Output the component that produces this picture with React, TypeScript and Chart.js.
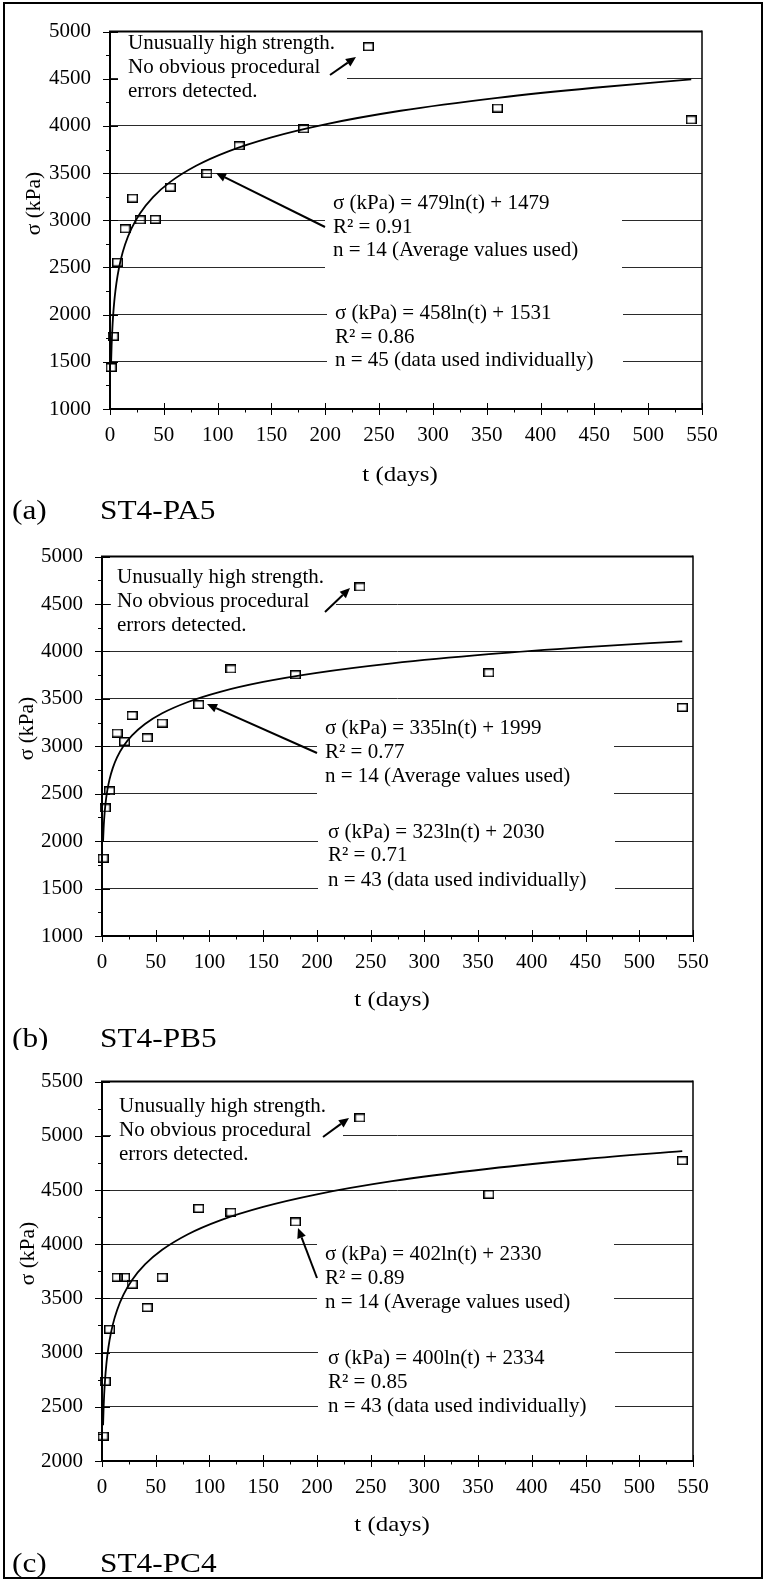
import React, { useEffect, useRef } from "react";
import { Chart, registerables } from "chart.js";

Chart.register(...registerables);

// ---------------- DATA ----------------
const DAYS = [1, 3, 7, 14, 21, 28, 42, 56, 90, 120, 180, 240, 360, 540];
const SIGMA_PA5 = [1440, 1770, 2555, 2910, 3235, 3005, 3010, 3350, 3495, 3790, 3970, 4840, 4190, 4065];
const SIGMA_PB5 = [1820, 2350, 2530, 3140, 3050, 3325, 3090, 3245, 3440, 3815, 3755, 4680, 3775, 3410];
const SIGMA_PC4 = [2230, 2735, 3215, 3695, 3695, 3630, 3415, 3695, 4330, 4295, 4205, 5165, 4460, 4770];

const TREND_DAYS = [1, 1.5, 2, 3, 4, 5, 7, 10, 14, 20, 28, 40, 56, 80, 110, 150, 200, 270, 360, 450, 540];
const TREND_PA5 = [1479, 1673, 1811, 2005, 2143, 2250, 2411, 2582, 2743, 2914, 3075, 3246, 3407, 3578, 3731, 3879, 4017, 4161, 4298, 4405, 4493];
const TREND_PB5 = [1999, 2135, 2231, 2367, 2463, 2538, 2651, 2770, 2883, 3003, 3115, 3235, 3348, 3467, 3574, 3678, 3774, 3874, 3971, 4046, 4107];
const TREND_PC4 = [2330, 2493, 2609, 2772, 2887, 2977, 3112, 3256, 3391, 3534, 3670, 3813, 3948, 4092, 4220, 4344, 4460, 4581, 4696, 4786, 4859];

const X_MIN = 0;
const X_MAX = 550;
const X_STEP = 50;
const Y_STEP = 500;

const NOTE_LINES = ["Unusually high strength.", "No obvious procedural", "errors detected."];
const EQ_AVG_PA5 = ["σ (kPa) = 479ln(t) + 1479", "R² = 0.91", "n = 14 (Average values used)"];
const EQ_IND_PA5 = ["σ (kPa) = 458ln(t) + 1531", "R² = 0.86", "n = 45 (data used individually)"];
const EQ_AVG_PB5 = ["σ (kPa) = 335ln(t) + 1999", "R² = 0.77", "n = 14 (Average values used)"];
const EQ_IND_PB5 = ["σ (kPa) = 323ln(t) + 2030", "R² = 0.71", "n = 43 (data used individually)"];
const EQ_AVG_PC4 = ["σ (kPa) = 402ln(t) + 2330", "R² = 0.89", "n = 14 (Average values used)"];
const EQ_IND_PC4 = ["σ (kPa) = 400ln(t) + 2334", "R² = 0.85", "n = 43 (data used individually)"];

const Y_TITLE = "σ (kPa)";
const X_TITLE = "t (days)";

// ---------------- LAYOUT ----------------
const W = 767;
const FONT = '"Liberation Serif", "Times New Roman", serif';
const TEXT_STRETCH = 1.16; // the x-title and panel labels are horizontally stretched in the original

type Box = { box: number[]; textX: number; lines: number[]; arrow?: number[] };
type PanelCfg = {
  key: string;
  top: number;
  height: number;
  plot: { left: number; right: number; top: number; bottom: number };
  yMin: number;
  yMax: number;
  values: number[];
  trend: number[];
  eqAvg: string[];
  eqInd: string[];
  label: string;
  name: string;
  yTitle: number[];
  xTitle: number[];
  labelBase: number;
  note: Box;
  eq1: Box;
  eq2: Box;
};

const PANELS: PanelCfg[] = [
  {
    key: "a",
    top: 0,
    height: 525,
    plot: { left: 110, right: 702, top: 20, bottom: 409 },
    yMin: 1000,
    yMax: 5000,
    values: SIGMA_PA5,
    trend: TREND_PA5,
    eqAvg: EQ_AVG_PA5,
    eqInd: EQ_IND_PA5,
    label: "(a)",
    name: "ST4-PA5",
    yTitle: [34, 203.5],
    xTitle: [400, 475],
    labelBase: 519,
    note: { box: [118, 25, 347, 105], textX: 128, lines: [43, 67, 91], arrow: [330, 75, 356, 57] },
    eq1: { box: [325, 188, 622, 270], textX: 333, lines: [203, 227, 250], arrow: [325, 227, 216, 173] },
    eq2: { box: [327, 296, 623, 372], textX: 335, lines: [313, 337, 360] },
  },
  {
    key: "b",
    top: 525,
    height: 525,
    plot: { left: 102, right: 693, top: 546, bottom: 936 },
    yMin: 1000,
    yMax: 5000,
    values: SIGMA_PB5,
    trend: TREND_PB5,
    eqAvg: EQ_AVG_PB5,
    eqInd: EQ_IND_PB5,
    label: "(b)",
    name: "ST4-PB5",
    yTitle: [27, 728.5],
    xTitle: [392, 1000],
    labelBase: 1047,
    note: { box: [111, 555, 336, 637], textX: 117, lines: [577, 601, 625], arrow: [325, 612, 350, 588] },
    eq1: { box: [317, 715, 614, 800], textX: 325, lines: [728, 752, 776], arrow: [317, 753, 207, 704] },
    eq2: { box: [318, 818, 615, 895], textX: 328, lines: [832, 855, 880] },
  },
  {
    key: "c",
    top: 1050,
    height: 535,
    plot: { left: 102, right: 693, top: 1072, bottom: 1461 },
    yMin: 2000,
    yMax: 5500,
    values: SIGMA_PC4,
    trend: TREND_PC4,
    eqAvg: EQ_AVG_PC4,
    eqInd: EQ_IND_PC4,
    label: "(c)",
    name: "ST4-PC4",
    yTitle: [28, 1253.5],
    xTitle: [392, 1525],
    labelBase: 1572,
    note: { box: [111, 1088, 343, 1170], textX: 119, lines: [1106, 1130, 1154], arrow: [323, 1137, 349, 1118] },
    eq1: { box: [317, 1225, 614, 1310], textX: 325, lines: [1254, 1278, 1302], arrow: [317, 1278, 298, 1228] },
    eq2: { box: [318, 1335, 615, 1420], textX: 328, lines: [1358, 1382, 1406] },
  },
];

function makeMarker(): HTMLCanvasElement {
  const c = document.createElement("canvas");
  c.width = 11;
  c.height = 9;
  const g = c.getContext("2d")!;
  g.strokeStyle = "#000";
  g.lineWidth = 1.5;
  g.strokeRect(0.75, 0.75, 9.5, 7.5);
  return c;
}

function drawArrow(ctx: CanvasRenderingContext2D, x1: number, y1: number, x2: number, y2: number) {
  const ang = Math.atan2(y2 - y1, x2 - x1);
  const len = 10;
  const hw = 4.5;
  const bx = x2 - Math.cos(ang) * len;
  const by = y2 - Math.sin(ang) * len;
  ctx.beginPath();
  ctx.moveTo(x1, y1);
  ctx.lineTo(bx, by);
  ctx.lineWidth = 2;
  ctx.strokeStyle = "#000";
  ctx.stroke();
  ctx.beginPath();
  ctx.moveTo(x2, y2);
  ctx.lineTo(bx + Math.sin(ang) * hw, by - Math.cos(ang) * hw);
  ctx.lineTo(bx - Math.sin(ang) * hw, by + Math.cos(ang) * hw);
  ctx.closePath();
  ctx.fillStyle = "#000";
  ctx.fill();
}

function stretchedText(ctx: CanvasRenderingContext2D, s: string, x: number, y: number, k: number) {
  ctx.save();
  ctx.translate(x, y);
  ctx.scale(k, 1);
  ctx.fillText(s, 0, 0);
  ctx.restore();
}

function makePlugin(p: PanelCfg) {
  const Y = (y: number) => y - p.top;
  return {
    id: "annot_" + p.key,
    beforeDatasetsDraw(chart: any) {
      const ctx: CanvasRenderingContext2D = chart.ctx;
      const { left, right, top, bottom } = chart.chartArea;
      const xs = chart.scales.x;
      const ys = chart.scales.y;
      ctx.save();
      // white text boxes covering gridlines
      ctx.fillStyle = "#fff";
      for (const b of [p.note.box, p.eq1.box, p.eq2.box]) {
        ctx.fillRect(b[0], Y(b[1]), b[2] - b[0], b[3] - b[1]);
      }
      // tick marks
      ctx.strokeStyle = "#000";
      ctx.lineWidth = 1;
      for (let v = p.yMin; v <= p.yMax; v += Y_STEP / 2) {
        const y = Math.round(ys.getPixelForValue(v)) + 0.5;
        const major = (v - p.yMin) % Y_STEP === 0;
        ctx.beginPath();
        ctx.moveTo(left - (major ? 7 : 4), y);
        ctx.lineTo(left + (major ? 8 : 0), y);
        ctx.stroke();
      }
      for (let t = X_MIN; t <= X_MAX; t += X_STEP / 2) {
        const x = Math.round(xs.getPixelForValue(t)) + 0.5;
        const major = t % X_STEP === 0;
        ctx.beginPath();
        ctx.moveTo(x, bottom + (major ? 6 : 3.5));
        ctx.lineTo(x, bottom - (major ? 6 : 0));
        ctx.stroke();
      }
      // plot frame
      ctx.strokeStyle = "#000";
      ctx.lineWidth = 2;
      ctx.beginPath();
      ctx.moveTo(left, top);
      ctx.lineTo(right, top);
      ctx.moveTo(left, bottom);
      ctx.lineTo(right, bottom);
      ctx.moveTo(left, top - 1);
      ctx.lineTo(left, bottom + 1);
      ctx.stroke();
      ctx.lineWidth = 1.5;
      ctx.beginPath();
      ctx.moveTo(right, top - 1);
      ctx.lineTo(right, bottom + 1);
      ctx.stroke();
      // annotation text
      ctx.fillStyle = "#000";
      ctx.font = `21px ${FONT}`;
      ctx.textAlign = "left";
      ctx.textBaseline = "middle";
      NOTE_LINES.forEach((s, i) => ctx.fillText(s, p.note.textX, Y(p.note.lines[i])));
      p.eqAvg.forEach((s, i) => ctx.fillText(s, p.eq1.textX, Y(p.eq1.lines[i])));
      p.eqInd.forEach((s, i) => ctx.fillText(s, p.eq2.textX, Y(p.eq2.lines[i])));
      // arrows
      for (const a of [p.note.arrow!, p.eq1.arrow!]) {
        drawArrow(ctx, a[0], Y(a[1]), a[2], Y(a[3]));
      }
      ctx.restore();
    },
    afterDraw(chart: any) {
      const ctx: CanvasRenderingContext2D = chart.ctx;
      ctx.save();
      ctx.fillStyle = "#000";
      // y title
      ctx.save();
      ctx.translate(p.yTitle[0], Y(p.yTitle[1]));
      ctx.rotate(-Math.PI / 2);
      ctx.font = `21.5px ${FONT}`;
      ctx.textAlign = "center";
      ctx.textBaseline = "middle";
      ctx.fillText(Y_TITLE, 0, 0);
      ctx.restore();
      // x title
      ctx.font = `21.5px ${FONT}`;
      ctx.textAlign = "center";
      ctx.textBaseline = "middle";
      stretchedText(ctx, X_TITLE, p.xTitle[0], Y(p.xTitle[1]), TEXT_STRETCH);
      // panel label
      ctx.font = `27px ${FONT}`;
      ctx.textAlign = "left";
      ctx.textBaseline = "alphabetic";
      stretchedText(ctx, p.label, 12, Y(p.labelBase), TEXT_STRETCH);
      stretchedText(ctx, p.name, 100, Y(p.labelBase), TEXT_STRETCH);
      ctx.restore();
    },
  };
}

function PanelChart({ cfg }: { cfg: PanelCfg }) {
  const ref = useRef<HTMLCanvasElement>(null);
  useEffect(() => {
    const canvas = ref.current;
    if (!canvas) return;
    const plotTop = cfg.plot.top - cfg.top;
    const plotBottom = cfg.plot.bottom - cfg.top;
    const xAxisH = 40;
    const yAxisW = cfg.plot.left;
    const padRight = W - cfg.plot.right;
    const padBottom = cfg.height - plotBottom - xAxisH;
    const marker = makeMarker();

    const chart = new Chart(canvas, {
      type: "scatter",
      data: {
        datasets: [
          {
            type: "line",
            label: "trend",
            data: TREND_DAYS.map((t, i) => ({ x: t, y: cfg.trend[i] })),
            borderColor: "#000",
            borderWidth: 1.8,
            pointRadius: 0,
            fill: false,
            showLine: true,
            cubicInterpolationMode: "monotone",
            clip: false,
          } as any,
          {
            type: "scatter",
            label: "data",
            data: DAYS.map((t, i) => ({ x: t, y: cfg.values[i] })),
            pointStyle: marker,
            pointRadius: 5,
            borderWidth: 1.5,
            borderColor: "#000",
            backgroundColor: "rgba(255,255,255,0)",
            clip: false,
          } as any,
        ],
      },
      options: {
        responsive: false,
        maintainAspectRatio: false,
        animation: false,
        devicePixelRatio: 1,
        events: [],
        layout: { padding: { top: plotTop, left: 0, right: padRight, bottom: padBottom } },
        plugins: { legend: { display: false }, tooltip: { enabled: false }, title: { display: false } },
        scales: {
          x: {
            type: "linear",
            min: X_MIN,
            max: X_MAX,
            grid: { display: false, drawTicks: false },
            border: { display: false },
            ticks: {
              stepSize: X_STEP,
              autoSkip: false,
              maxRotation: 0,
              padding: 13.5,
              color: "#000",
              font: { family: FONT, size: 21 },
              callback: (v: any) => String(v),
            },
            afterFit: (s: any) => {
              s.height = xAxisH;
            },
          },
          y: {
            type: "linear",
            min: cfg.yMin,
            max: cfg.yMax,
            grid: { color: "#2a2a2a", lineWidth: 1, drawTicks: false },
            border: { display: false },
            ticks: {
              stepSize: Y_STEP,
              autoSkip: false,
              padding: 19,
              color: "#000",
              font: { family: FONT, size: 21 },
              callback: (v: any) => String(v),
            },
            afterFit: (s: any) => {
              s.width = yAxisW;
            },
          },
        },
      } as any,
      plugins: [makePlugin(cfg)],
    });
    return () => chart.destroy();
  }, [cfg]);
  return (
    <canvas
      ref={ref}
      width={W}
      height={cfg.height}
      style={{ position: "absolute", left: 0, top: cfg.top, width: W, height: cfg.height, display: "block" }}
    />
  );
}

export default function App() {
  useEffect(() => {
    document.body.style.margin = "0";
    document.body.style.overflow = "hidden";
  }, []);
  return (
    <div style={{ position: "absolute", left: 0, top: 0, width: 767, height: 1585, overflow: "hidden", background: "#fff" }}>
      {PANELS.map((p) => (
        <PanelChart key={p.key} cfg={p} />
      ))}
      <div
        style={{
          position: "absolute",
          left: 3,
          top: 2,
          width: 756,
          height: 1573,
          border: "2px solid #000",
          pointerEvents: "none",
        }}
      />
    </div>
  );
}
